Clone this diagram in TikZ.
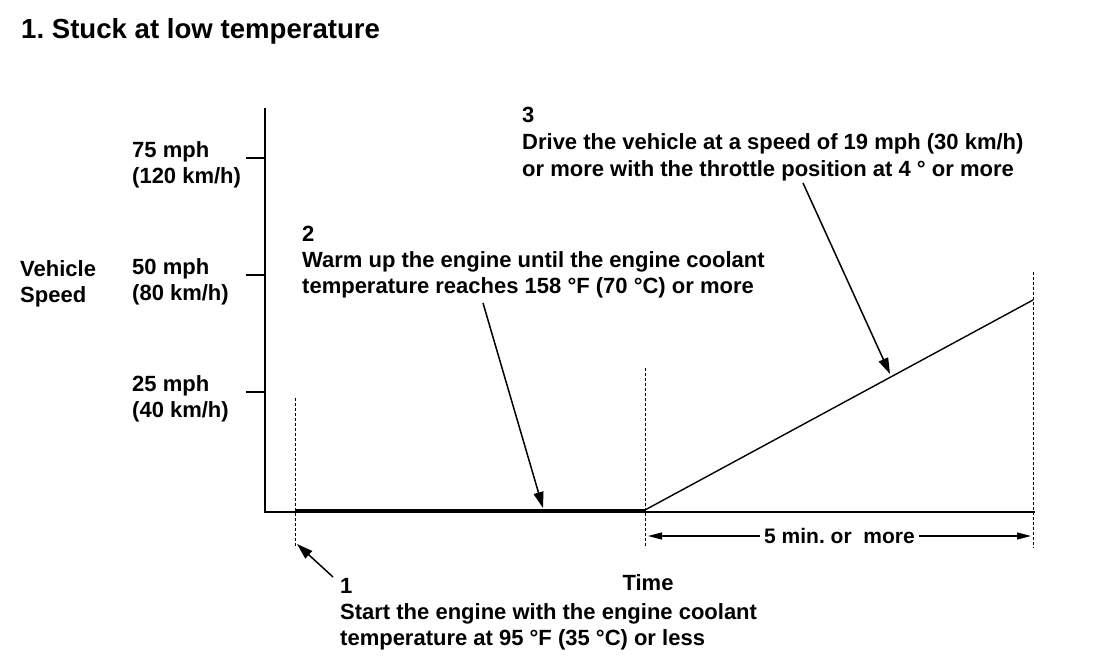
\documentclass[tikz,border=0pt]{standalone}
\usepackage{fontspec}
\setmainfont{Liberation Sans}
\usetikzlibrary{arrows.meta,positioning}

\tikzset{
  lbl/.style={font=\fontsize{22}{26}\selectfont\bfseries, inner sep=0pt, align=left},
  guide/.style={line width=1pt, dash pattern=on 3pt off 2pt},
  pointer/.style={line width=1.5pt, -{Triangle[length=16pt,width=10pt]}},
  span/.style={line width=1.3pt, {Triangle[length=14pt,width=7pt]}-{Triangle[length=14pt,width=7pt]}},
}

\begin{document}
\frenchspacing
\begin{tikzpicture}[x=1pt, y=-1pt]
    \useasboundingbox (0,0) rectangle (1120,668);

    % Title
    \node[lbl, font=\fontsize{27.6}{30}\selectfont\bfseries, anchor=base west] (title) at (21,38.5) {1. Stuck at low temperature};

    % Speed axis and ticks
    \coordinate (O) at (265,512);
    \draw[line width=1.3pt] (265,108) -- (O) -- (1035,512);
    \foreach \y/\mph/\kmh in {158/75/120, 275/50/80, 392/25/40} {
        \draw[line width=1.5pt] (246,\y) -- (265,\y);
        \node[lbl, anchor=base west] (tick\mph) at (132,\y+25.5) {\mph{} mph\\(\kmh{} km/h)};
    }
    \node[lbl, anchor=base west] (speed) at (20,303) {Vehicle\\Speed};
    \node[lbl, anchor=base] (time) at (648,590) {Time};

    % Speed profile
    \coordinate (start) at (295,510);
    \coordinate (warm) at (645,510);
    \coordinate (drive) at (1033,300);
    \draw[line width=2pt] (start) -- (warm);
    \draw[line width=1.4pt] (warm) -- (drive);

    % Phase limits
    \draw[guide] (295,398) -- (295,548);
    \draw[guide] (645,368) -- (645,548);
    \draw[guide] (1033,272) -- (1033,548);
    \coordinate (spanL) at (648,536);
    \coordinate (spanR) at (1031,536);
    \draw[span] (spanL) -- node[lbl, font=\fontsize{21}{26}\selectfont\bfseries, fill=white, inner xsep=4pt, inner ysep=2pt] (gap) {5 min. or\ \ more} (spanR);

    % Steps
    \node[lbl, anchor=base west] (step1) at (340,645) {1\\Start the engine with the engine coolant\\temperature at 95 °F (35 °C) or less};
    \node[lbl, anchor=base west] (step2) at (302,294) {2\\Warm up the engine until the engine coolant\\temperature reaches 158 °F (70 °C) or more};
    \node[lbl, anchor=base west, font=\fontsize{22}{27}\selectfont\bfseries] (step3) at (522,177) {3\\Drive the vehicle at a speed of 19 mph (30 km/h)\\or more with the throttle position at 4 ° or more};

    % Pointers
    \coordinate (p1a) at (333,577);
    \coordinate (p1b) at (297,544);
    \coordinate (p2a) at (483,303);
    \coordinate (p2b) at (543,508);
    \coordinate (p3a) at (803,183);
    \coordinate (p3b) at (890,374);
    \draw[pointer] (p1a) -- (p1b);
    \draw[pointer] (p2a) -- (p2b);
    \draw[pointer] (p3a) -- (p3b);
\end{tikzpicture}
\end{document}
